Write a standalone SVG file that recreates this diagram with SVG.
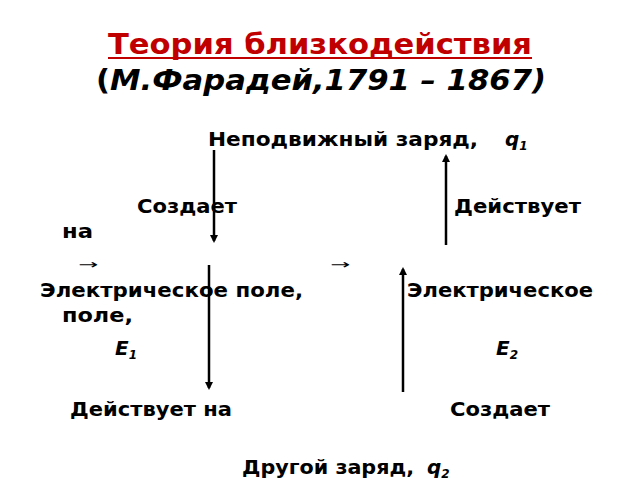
<svg xmlns="http://www.w3.org/2000/svg" width="640" height="480" viewBox="0 0 640 480">
<style>
text{font-family:"DejaVu Sans","Noto Sans",sans-serif;font-weight:bold;fill:#000}
.t{font-size:29px}
.n{font-size:20px}
.i{font-style:italic}
.s{font-size:12px}
.sm{font-size:13px;font-weight:normal}
.ln{stroke:#000;stroke-width:2.5;fill:none}
</style>
<defs>
<marker id="ah" markerWidth="8" markerHeight="8" refX="6" refY="4" orient="auto" markerUnits="userSpaceOnUse">
<path d="M0,0 L8,4 L0,8 Z" fill="#000"/>
</marker>
</defs>
<rect width="640" height="480" fill="#fff"/>
<g id="title">
<text class="t" x="108" y="54" style="fill:#C00000" textLength="424" lengthAdjust="spacingAndGlyphs">Теория близкодействия</text>
<line x1="108" y1="58" x2="532" y2="58" stroke="#C00000" stroke-width="2"/>
<text class="t" x="96" y="90" textLength="450" lengthAdjust="spacingAndGlyphs">(<tspan class="i">М.Фарадей,1791 – 1867)</tspan></text>
</g>
<g id="q1">
<text class="n" x="208" y="146" textLength="270" lengthAdjust="spacingAndGlyphs">Неподвижный заряд,</text>
<text class="n i" x="505" y="146">q<tspan class="s" dy="4">1</tspan></text>
</g>
<g id="field1">
<text class="sm" x="78" y="269" textLength="20" lengthAdjust="spacingAndGlyphs">→</text>
<text class="n" x="40" y="297" textLength="263" lengthAdjust="spacingAndGlyphs">Электрическое поле,</text>
<text class="n" x="62" y="322" textLength="71" lengthAdjust="spacingAndGlyphs">поле,</text>
<text class="n i" x="115" y="355">E<tspan class="s" dy="4">1</tspan></text>
</g>
<g id="field2">
<text class="sm" x="330" y="269" textLength="20" lengthAdjust="spacingAndGlyphs">→</text>
<text class="n" x="407" y="297" textLength="186" lengthAdjust="spacingAndGlyphs">Электрическое</text>
<text class="n i" x="496" y="355">E<tspan class="s" dy="4">2</tspan></text>
</g>
<g id="q2">
<text class="n" x="242" y="474" textLength="172" lengthAdjust="spacingAndGlyphs">Другой заряд,</text>
<text class="n i" x="427" y="474">q<tspan class="s" dy="4">2</tspan></text>
</g>
<g id="labels">
<text class="n" x="137" y="213" textLength="100" lengthAdjust="spacingAndGlyphs">Создает</text>
<text class="n" x="454" y="213" textLength="127" lengthAdjust="spacingAndGlyphs">Действует</text>
<text class="n" x="62" y="238" textLength="31" lengthAdjust="spacingAndGlyphs">на</text>
<text class="n" x="70" y="416" textLength="162" lengthAdjust="spacingAndGlyphs">Действует на</text>
<text class="n" x="450" y="416" textLength="100" lengthAdjust="spacingAndGlyphs">Создает</text>
</g>
<g id="connectors">
<line class="ln" x1="214" y1="150" x2="214" y2="241" marker-end="url(#ah)"/>
<line class="ln" x1="446" y1="245" x2="446" y2="156" marker-end="url(#ah)"/>
<line class="ln" x1="209" y1="265" x2="209" y2="388" marker-end="url(#ah)"/>
<line class="ln" x1="403" y1="392" x2="403" y2="269" marker-end="url(#ah)"/>
</g>
</svg>
